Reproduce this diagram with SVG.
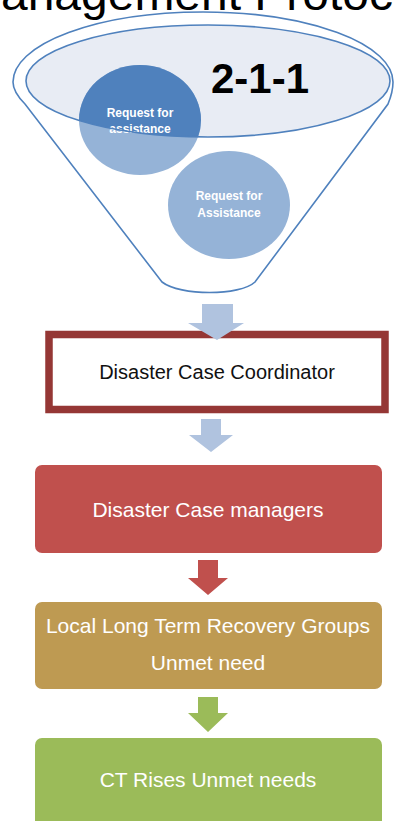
<svg xmlns="http://www.w3.org/2000/svg" width="395" height="821" viewBox="0 0 395 821">
<defs>
<style>
.funnel{fill:#ffffff;stroke:#4f81bd;stroke-width:1.6}
.ell{fill:#e8ecf4}
.ellStroke{fill:none;stroke:#4f81bd;stroke-width:1.6}
.circ{fill:#95b3d7}
.circDark{fill:#4f81bd}
.ctext{font-family:"Liberation Sans",Arial,sans-serif;font-size:12px;font-weight:bold;fill:#ffffff;text-anchor:middle}
.btext{font-family:"Liberation Sans",Arial,sans-serif;font-size:21px;fill:#ffffff;text-anchor:middle}
.box{stroke:none}
</style>
<clipPath id="ellClip"><ellipse cx="208" cy="81" rx="182" ry="56"/></clipPath>
</defs>
<rect x="0" y="0" width="395" height="821" fill="#ffffff"/>
<text x="1" y="10" font-family="'Liberation Sans',Arial,sans-serif" font-size="46" fill="#000000" textLength="392" lengthAdjust="spacingAndGlyphs">anagement Protoc</text>

<g id="funnel">
<path class="funnel" d="M162 282 L25 104 Q13 92 13 82 A190 70 0 0 1 393 82 Q393 92 388 104 L255 282 C240 296 180 296 162 282 Z"/>
<ellipse class="ell" cx="208" cy="81" rx="182" ry="56"/>
<text x="260" y="93" font-family="'Liberation Sans',Arial,sans-serif" font-size="42" font-weight="bold" fill="#000000" text-anchor="middle">2-1-1</text>
</g>

<g id="request1">
<ellipse class="circ" cx="140" cy="120" rx="61" ry="55"/>
<ellipse class="circDark" cx="140" cy="120" rx="61" ry="55" clip-path="url(#ellClip)"/>
<text class="ctext" x="140" y="117">Request for</text>
<text class="ctext" x="140" y="133">assistance</text>
</g>
<ellipse class="ellStroke" cx="208" cy="81" rx="182" ry="56"/>

<g id="request2">
<ellipse class="circ" cx="229" cy="205" rx="61" ry="54"/>
<text class="ctext" x="229" y="200">Request for</text>
<text class="ctext" x="229" y="217">Assistance</text>
</g>

<g id="coordinator">
<rect x="49" y="334.5" width="336" height="75" fill="#ffffff" stroke="#953735" stroke-width="7.5"/>
<text x="217" y="379" font-family="'Liberation Sans',Arial,sans-serif" font-size="20" fill="#111111" text-anchor="middle">Disaster Case Coordinator</text>
</g>

<g id="managers">
<rect class="box" x="35" y="465" width="347" height="88" rx="7" fill="#c0504d"/>
<text class="btext" x="208" y="517">Disaster Case managers</text>
</g>

<g id="ltrg">
<rect class="box" x="35" y="602" width="347" height="87" rx="7" fill="#be9a52"/>
<text class="btext" x="208" y="633">Local Long Term Recovery Groups</text>
<text class="btext" x="208" y="670">Unmet need</text>
</g>

<g id="ctrises">
<rect class="box" x="35" y="738" width="347" height="95" rx="7" fill="#9bbb59"/>
<text class="btext" x="208" y="787">CT Rises Unmet needs</text>
</g>

<g id="connectors">
<path d="M202 304 H233 V323 H244 L217 340 L188 323 H202 Z" fill="#b0c3df"/>
<path d="M201 419 H221 V435 H233 L211 452 L189 435 H201 Z" fill="#b0c3df"/>
<path d="M198 560 H218 V578 H228 L208 595 L188 578 H198 Z" fill="#c0504d"/>
<path d="M198 697 H218 V713 H228 L208 732 L188 713 H198 Z" fill="#9bbb59"/>
</g>
</svg>
